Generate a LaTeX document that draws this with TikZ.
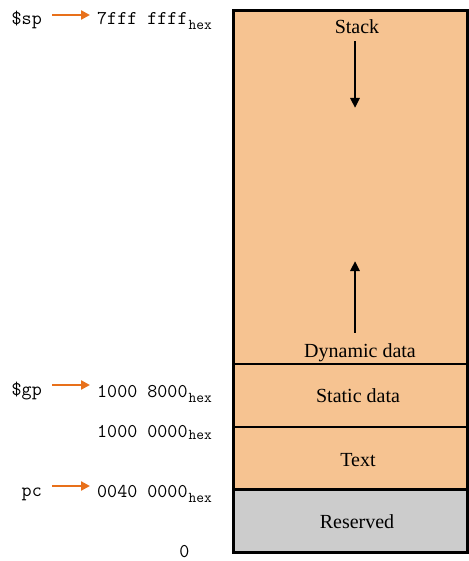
\documentclass[tikz,border=0pt]{standalone}
\usepackage{fontspec}
\setmainfont{Liberation Serif}
\usetikzlibrary{arrows.meta}
\definecolor{segfill}{RGB}{246,195,145}
\definecolor{resfill}{RGB}{204,204,204}
\definecolor{ptrcol}{RGB}{232,112,26}
\newcommand{\hexsub}[1][5pt]{\hspace{1pt}\raisebox{-#1}{\fontsize{15}{15}\selectfont hex}}
\begin{document}
\begin{tikzpicture}
            [x=1pt,y=-1pt,
             seg/.style ={font=\fontsize{20}{20}\selectfont,anchor=base},
             reg/.style ={font=\fontsize{19.5}{19.5}\ttfamily,anchor=base east,inner xsep=10pt,inner ysep=0pt,text height=20pt,text depth=0pt},
             addr/.style ={font=\fontsize{19.5}{19.5}\ttfamily,anchor=base west,inner xsep=7pt,inner ysep=0pt,text height=20pt,text depth=0pt},
             ptr/.style ={-{Triangle[length=9pt,width=9pt]},draw=ptrcol,line width=2.5pt},
             growarrow/.style ={-{Triangle[length=10pt,width=9pt]},line width=2.5pt}]
            \useasboundingbox (0,0) rectangle (468,561);
            \filldraw[fill=segfill,line width=3pt] (233,11) rectangle (467,489);
            \filldraw[fill=resfill,line width=3pt] (233,489) rectangle (467,552);
            \draw[line width=2.5pt] (233,364) -- (467,364);
            \draw[line width=2.5pt] (233,427) -- (467,427);
            \node[seg,inner ysep=7pt,text depth=0pt] (stack) at (357,34) {Stack};
            \node[seg,inner ysep=9pt,text height=15pt] (dyn) at (360,357) {Dynamic data};
            \node[seg] (static) at (358,402) {Static data};
            \node[seg] (text) at (358,466) {Text};
            \node[seg] (res) at (357,528) {Reserved};
            \coordinate (stackend) at (355,108);
            \coordinate (heapend) at (355,261);
            \draw[growarrow] (stackend |- stack.south) -- (stackend);
            \draw[growarrow] (heapend |- dyn.north) -- (heapend);
            \node[reg] (sp) at (52,25) {\$sp};
            \node[reg] (gp) at (52,395) {\$gp};
            \node[reg] (pc) at (52,496) {pc};
            \node[addr] (spaddr) at (90,25) {7fff ffff\hexsub};
            \node[addr] (gpaddr) at (90,397) {1000 8000\hexsub};
            \node[addr] (textaddr) at (90,437) {1000 0000\hexsub[2pt]};
            \node[addr] (pcaddr) at (90,497) {0040 0000\hexsub};
            \node[font=\fontsize{19.5}{19.5}\ttfamily,anchor=base] (zero) at (184.5,557) {0};
            \draw[ptr] (sp.east) -- (sp.east -| spaddr.west);
            \draw[ptr] (gp.east) -- (gp.east -| gpaddr.west);
            \draw[ptr] (pc.east) -- (pc.east -| pcaddr.west);
        \end{tikzpicture}
\end{document}
